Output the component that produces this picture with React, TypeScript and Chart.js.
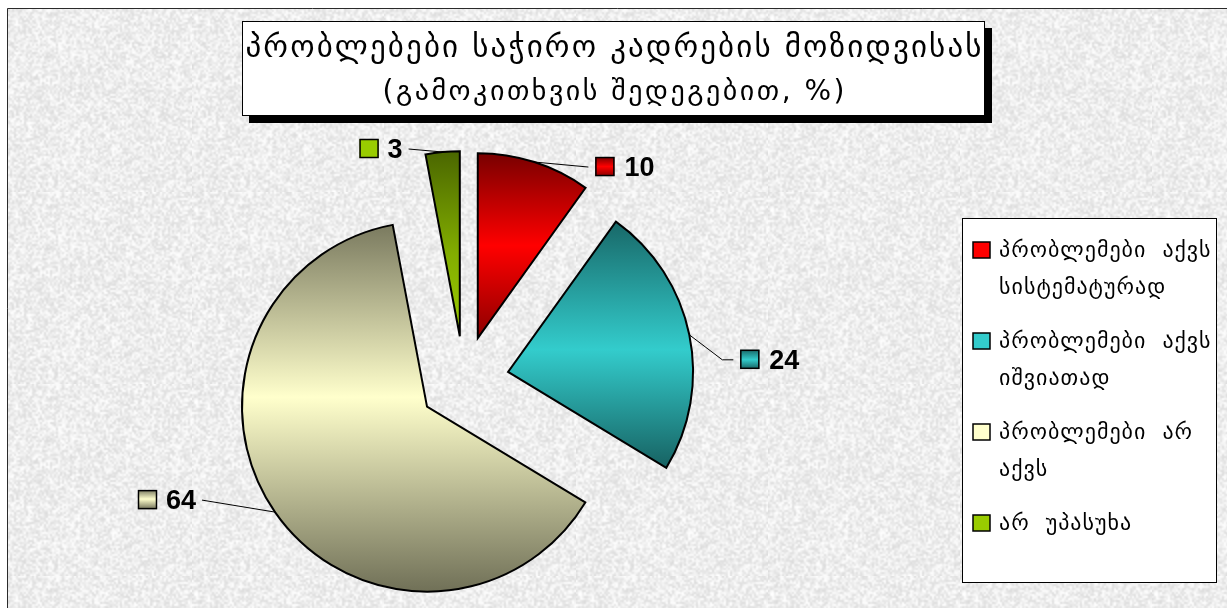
import React, { useEffect, useRef } from 'react';
import { Chart, registerables } from 'chart.js';

Chart.register(...registerables);

// ---- data ----
const CATEGORIES = [
  'პრობლემები აქვს სისტემატურად',
  'პრობლემები აქვს იშვიათად',
  'პრობლემები არ აქვს',
  'არ უპასუხა',
];
const VALUES = [10, 24, 64, 3];
const TITLE_LINES = ['პრობლებები საჭირო კადრების მოზიდვისას', '(გამოკითხვის შედეგებით, %)'];

// ---- styles ----
const BASE_COLORS = ['#ff0000', '#33cccc', '#ffffcc', '#99cc00'];
const GRADIENT_STOPS: [number, string][][] = [
  [[0, '#780000'], [0.5, '#ff0000'], [1, '#8c0000']],
  [[0, '#186868'], [0.52, '#33cccc'], [1, '#176262']],
  [[0, '#7a7a5f'], [0.47, '#ffffcc'], [1, '#707057']],
  [[0, '#4a6600'], [0.55, '#82ad00'], [1, '#9ccc00']],
];
const EXPLODE = 45;
const RADIUS = 185;
// leader line end relative to the arc's mid point, plus horizontal elbow length
const LABEL_LAYOUT = [
  { dx: 54, dy: 5, elbow: 0 },
  { dx: 44, dy: 25, elbow: 11 },
  { dx: -73, dy: -12, elbow: 0 },
  { dx: -34, dy: -3, elbow: 0 },
];
const GEO_FONT = '"DejaVu Sans", "Noto Sans", sans-serif';
const NUM_FONT = 'bold 27px "Liberation Sans", Arial, sans-serif';

function makeTexture(): CanvasPattern | string {
  const small = document.createElement('canvas');
  small.width = 96;
  small.height = 96;
  const sctx = small.getContext('2d');
  if (!sctx) return '#e9e9e9';
  const img = sctx.createImageData(96, 96);
  let h = 2166136261;
  for (let i = 0; i < 96 * 96; i++) {
    h ^= i * 2654435761;
    h = Math.imul(h ^ (h >>> 13), 1274126177);
    h ^= h >>> 16;
    const v = 220 + ((h >>> 0) % 36);
    img.data[i * 4] = v;
    img.data[i * 4 + 1] = v;
    img.data[i * 4 + 2] = v;
    img.data[i * 4 + 3] = 255;
  }
  sctx.putImageData(img, 0, 0);
  const big = document.createElement('canvas');
  big.width = 192;
  big.height = 192;
  const bctx = big.getContext('2d');
  if (!bctx) return '#e9e9e9';
  bctx.imageSmoothingEnabled = true;
  bctx.drawImage(small, 0, 0, 192, 192);
  const p = bctx.createPattern(big, 'repeat');
  return p || '#e9e9e9';
}

function spacedWidth(ctx: CanvasRenderingContext2D, text: string, spacing: number, wordGap = 0) {
  let w = 0;
  const chars = Array.from(text);
  chars.forEach((ch, i) => {
    w += ctx.measureText(ch).width + (ch === ' ' ? wordGap : 0);
    if (i < chars.length - 1) w += spacing;
  });
  return w;
}

function drawSpaced(ctx: CanvasRenderingContext2D, text: string, x: number, y: number, spacing: number, wordGap = 0) {
  let cx = x;
  ctx.textAlign = 'left';
  for (const ch of Array.from(text)) {
    ctx.fillText(ch, cx, y);
    cx += ctx.measureText(ch).width + spacing + (ch === ' ' ? wordGap : 0);
  }
}

function arcBounds(arc: any) {
  const pts: number[] = [arc.y];
  const s = arc.startAngle;
  const e = arc.endAngle;
  pts.push(arc.y + Math.sin(s) * arc.outerRadius, arc.y + Math.sin(e) * arc.outerRadius);
  for (let k = -4; k <= 8; k++) {
    const a = (k * Math.PI) / 2;
    if (a > s && a < e) pts.push(arc.y + Math.sin(a) * arc.outerRadius);
  }
  return { top: Math.min(...pts), bottom: Math.max(...pts) };
}

const decorPlugin = {
  id: 'decor',
  afterDatasetsUpdate(chart: any) {
    const meta = chart.getDatasetMeta(0);
    const ctx = chart.ctx as CanvasRenderingContext2D;
    meta.data.forEach((arc: any, i: number) => {
      const mid = (arc.startAngle + arc.endAngle) / 2;
      arc.x += Math.cos(mid) * EXPLODE;
      arc.y += Math.sin(mid) * EXPLODE;
      const b = arcBounds(arc);
      const g = ctx.createLinearGradient(0, b.top, 0, b.bottom);
      GRADIENT_STOPS[i].forEach(([o, c]) => g.addColorStop(o, c));
      arc.options = Object.assign({}, arc.options, { backgroundColor: g });
    });
  },
  beforeDraw(chart: any) {
    const ctx = chart.ctx as CanvasRenderingContext2D;
    const W = chart.width;
    const H = chart.height;
    ctx.save();
    ctx.fillStyle = makeTexture() as any;
    ctx.fillRect(0, 0, W, H);
    ctx.fillStyle = '#ffffff';
    ctx.fillRect(0, 0, W, 8);
    ctx.fillRect(0, 0, 7, H);
    // frame
    ctx.strokeStyle = '#2a2a2a';
    ctx.lineWidth = 1;
    ctx.beginPath();
    ctx.moveTo(7.5, H + 5);
    ctx.lineTo(7.5, 8.5);
    ctx.lineTo(W + 5, 8.5);
    ctx.stroke();

    // title box with shadow
    const tx = 242, ty = 21, tw = 743, th = 95;
    ctx.fillStyle = '#000000';
    ctx.fillRect(tx + 7, ty + 7, tw, th);
    ctx.fillStyle = '#ffffff';
    ctx.fillRect(tx, ty, tw, th);
    ctx.strokeStyle = '#000000';
    ctx.strokeRect(tx + 0.5, ty + 0.5, tw - 1, th - 1);
    ctx.fillStyle = '#000000';
    ctx.textBaseline = 'alphabetic';
    const cx = tx + tw / 2;
    const targets = [736, 462];
    const baselines = [57, 100];
    const sizes = [31, 28];
    TITLE_LINES.forEach((line, i) => {
      ctx.font = `${sizes[i]}px ${GEO_FONT}`;
      const n = Array.from(line).length;
      const natural = spacedWidth(ctx, line, 0);
      const sp = (targets[i] - natural) / (n - 1);
      drawSpaced(ctx, line, cx - targets[i] / 2, baselines[i], sp);
    });

    // legend box
    const lx = 962, ly = 218, lw = 255, lh = 365;
    ctx.fillStyle = '#ffffff';
    ctx.fillRect(lx, ly, lw, lh);
    ctx.strokeStyle = '#000000';
    ctx.strokeRect(lx + 0.5, ly + 0.5, lw - 1, lh - 1);
    ctx.font = `22px ${GEO_FONT}`;
    const spacing = 1;
    const wordGap = 8;
    const maxW = 218;
    let y = 250;
    chart.data.labels.forEach((label: string, i: number) => {
      const words = label.split(' ');
      const lines: string[] = [];
      let cur = '';
      words.forEach((w) => {
        const test = cur ? cur + ' ' + w : w;
        if (cur && spacedWidth(ctx, test, spacing, wordGap) > maxW) {
          lines.push(cur);
          cur = w;
        } else cur = test;
      });
      if (cur) lines.push(cur);
      ctx.fillStyle = BASE_COLORS[i];
      ctx.fillRect(973, y - 8, 17, 16);
      ctx.lineWidth = 1.5;
      ctx.strokeStyle = '#000000';
      ctx.strokeRect(973, y - 8, 17, 16);
      ctx.fillStyle = '#000000';
      lines.forEach((ln, k) => {
        drawSpaced(ctx, ln, 999, y + k * 37 + 7, spacing, wordGap);
      });
      y += lines.length * 37 + 17;
    });
    ctx.restore();
  },
  afterDatasetsDraw(chart: any) {
    const ctx = chart.ctx as CanvasRenderingContext2D;
    const meta = chart.getDatasetMeta(0);
    ctx.save();
    meta.data.forEach((arc: any, i: number) => {
      const mid = (arc.startAngle + arc.endAngle) / 2;
      const px = arc.x + Math.cos(mid) * arc.outerRadius;
      const py = arc.y + Math.sin(mid) * arc.outerRadius;
      const lay = LABEL_LAYOUT[i];
      const right = lay.dx > 0;
      const lx = px + lay.dx;
      const ly = py + lay.dy;
      ctx.strokeStyle = '#000000';
      ctx.lineWidth = 1;
      ctx.beginPath();
      ctx.moveTo(px, py);
      ctx.lineTo(lx - (right ? lay.elbow : -lay.elbow), ly);
      ctx.lineTo(lx, ly);
      ctx.stroke();

      const text = String(chart.data.datasets[0].data[i]);
      ctx.font = NUM_FONT;
      const tw = ctx.measureText(text).width;
      let mx: number, txt: number;
      if (right) {
        mx = lx + 7;
        txt = lx + 36;
      } else {
        txt = lx - 6 - tw;
        mx = txt - 9 - 19;
      }
      const my = ly - 10;
      const g = ctx.createLinearGradient(0, my, 0, my + 19);
      GRADIENT_STOPS[i].forEach(([o, c]) => g.addColorStop(o, c));
      ctx.fillStyle = i === 3 ? BASE_COLORS[i] : g;
      ctx.fillRect(mx, my, 19, 19);
      ctx.lineWidth = 1.5;
      ctx.strokeRect(mx + 0.5, my + 0.5, 18, 18);
      ctx.fillStyle = '#000000';
      ctx.textAlign = 'left';
      ctx.textBaseline = 'alphabetic';
      ctx.fillText(text, txt, ly + 9);
    });
    ctx.restore();
  },
};

export default function App() {
  const ref = useRef<HTMLCanvasElement | null>(null);
  useEffect(() => {
    if (!ref.current) return;
    const chart = new Chart(ref.current, {
      type: 'pie',
      data: {
        labels: CATEGORIES,
        datasets: [
          {
            data: VALUES,
            backgroundColor: BASE_COLORS,
            borderColor: '#000000',
            borderWidth: 2,
            borderJoinStyle: 'miter',
          } as any,
        ],
      },
      options: {
        responsive: false,
        animation: false,
        devicePixelRatio: 1,
        events: [],
        radius: RADIUS,
        rotation: 0,
        layout: { padding: { left: 0, right: 299, top: 154, bottom: 0 } },
        plugins: {
          legend: { display: false },
          title: { display: false },
          tooltip: { enabled: false },
        },
      } as any,
      plugins: [decorPlugin],
    });
    return () => chart.destroy();
  }, []);
  return (
    <canvas
      ref={ref}
      width={1227}
      height={608}
      style={{ position: 'fixed', left: 0, top: 0, width: 1227, height: 608 }}
    />
  );
}
